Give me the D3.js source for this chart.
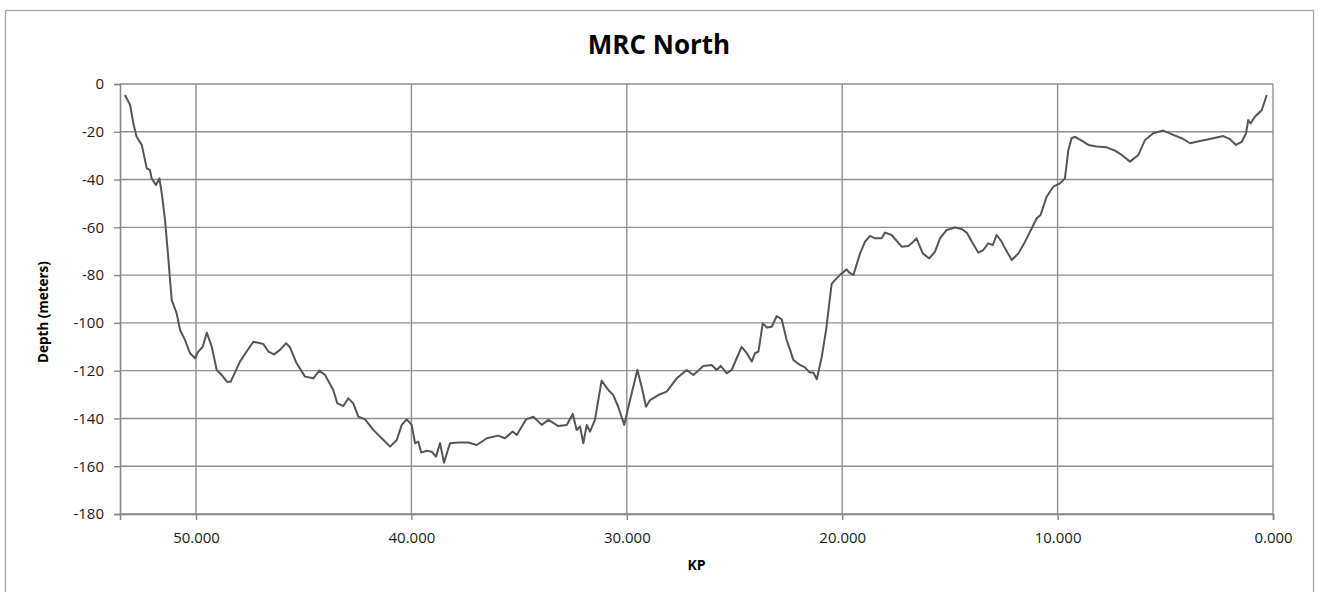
<!DOCTYPE html>
<html>
<head>
<meta charset="utf-8">
<script src="https://cdn.jsdelivr.net/npm/d3@7"></script>
<style>
  body { margin: 0; background: #fff; }
  svg { display: block; font-family: "Open Sans", "DejaVu Sans", sans-serif; }
</style>
</head>
<body>
<div id="chart"></div>
<script>
// ============= Data =============
const chartTitle = "MRC North";
const xLabel = "KP";
const yLabel = "Depth (meters)";

// KP (km), right to left on the reversed axis
const kp = [
  53.30, 53.06, 52.91, 52.76, 52.52, 52.37, 52.29, 52.14, 52.06, 51.86,
  51.70, 51.59, 51.44, 51.28, 51.13, 50.90, 50.74, 50.51, 50.28, 50.05,
  49.89, 49.69, 49.50, 49.27, 49.04, 48.81, 48.57, 48.39, 47.96, 47.65,
  47.34, 47.11, 46.88, 46.64, 46.38, 46.10, 45.82, 45.64, 45.33, 44.94,
  44.55, 44.28, 44.01, 43.63, 43.44, 43.16, 42.93, 42.70, 42.46, 42.15,
  41.77, 41.38, 40.99, 40.68, 40.45, 40.22, 39.99, 39.83, 39.68, 39.55,
  39.29, 39.06, 38.86, 38.67, 38.49, 38.21, 37.82, 37.36, 36.97, 36.50,
  35.97, 35.66, 35.30, 35.11, 34.68, 34.34, 33.95, 33.64, 33.18, 32.79,
  32.51, 32.33, 32.17, 32.02, 31.86, 31.71, 31.48, 31.17, 30.86, 30.63,
  30.40, 30.12, 29.85, 29.51, 29.31, 29.11, 28.92, 28.54, 28.15, 27.68,
  27.22, 26.91, 26.45, 26.06, 25.83, 25.64,
  25.36, 25.13, 24.90, 24.67, 24.43, 24.20, 24.05, 23.89, 23.69, 23.50,
  23.27, 23.04, 22.81, 22.58, 22.42, 22.27, 21.96, 21.73, 21.50, 21.34,
  21.18, 20.95, 20.75, 20.49, 20.33, 20.10, 19.79, 19.67, 19.48, 19.17,
  18.94, 18.71, 18.48, 18.17, 18.01, 17.71, 17.24, 16.93, 16.70, 16.55,
  16.26, 15.96, 15.69, 15.46, 15.15, 14.76, 14.45, 14.22, 13.94, 13.68,
  13.45, 13.22, 13.01, 12.83,
  12.60, 12.44, 12.13, 11.82, 11.51, 11.20, 10.97, 10.79, 10.51, 10.20,
  9.89, 9.66, 9.50, 9.35, 9.19, 8.88, 8.57, 8.19, 7.72, 7.34,
  7.02, 6.64, 6.25, 5.94, 5.56, 5.09, 4.63, 4.24, 3.85, 3.39,
  2.77, 2.31, 2.00, 1.72, 1.45, 1.25, 1.15, 1.04, 0.84, 0.52,
  0.29
];

// depth (m), same order as kp
const depth = [
  -4.6, -8.8, -16.5, -22, -25.5, -31.8, -35.3, -36, -39.5, -42.3,
  -39.5, -45.8, -56.9, -73.7, -90.4, -96, -103, -107.2, -112.7, -114.8,
  -112, -110, -104.1, -110, -119.7, -121.8, -124.6, -124.6, -116.2, -112,
  -107.9, -108.3, -108.8, -112, -113.2, -111.3, -108.5, -110.2, -116.9, -122.5,
  -123.2, -120, -121.8, -128.1, -133.7, -134.8, -131.6, -133.7, -139.3, -140.4,
  -144.8, -148.3, -151.8, -149, -142.7, -140.4, -142.7, -150.4, -149.7, -154.3,
  -153.5, -153.9, -156, -150.4, -158.5, -150.4, -150.1, -150.1, -151.1, -148.3,
  -147.2, -148.3, -145.5, -146.9, -140.4, -139.3, -142.7, -140.6, -143.2, -142.7,
  -138.1, -144.8, -143.4, -150.4, -142.7, -145.5, -140.6, -124.2, -128.1, -130.2,
  -135.1, -142.7, -132.3, -119.7, -126.7, -135.1, -132.3, -130.2, -128.8, -123.2,
  -119.7, -121.8, -118, -117.6, -119.7, -118,
  -121.1, -119.7, -114.8, -110, -112.7, -116.2, -112.7, -112, -100.2, -101.9,
  -101.6, -97.1, -98.5, -107.2, -111.3, -115.5, -117.6, -118.6, -120.8, -120.8,
  -123.6, -114.2, -103, -83.7, -82, -79.9, -77.6, -79, -79.9, -70.9,
  -66, -63.6, -64.6, -64.6, -62.2, -63.2, -68.1, -67.8, -66, -64.6,
  -70.9, -73, -70.2, -64.6, -61.1, -60.1, -60.7, -62.2, -66.7, -70.6,
  -69.5, -66.7, -67.4, -63.2,
  -66, -68.8, -73.7, -70.9, -66, -60.4, -56.2, -54.8, -47.2, -43,
  -41.6, -39.5, -27.6, -22.7, -22.1, -23.7, -25.5, -26.2, -26.5, -27.9,
  -29.7, -32.5, -29.7, -23.4, -20.6, -19.5, -21.3, -22.7, -24.8, -23.9,
  -22.7, -21.8, -23.1, -25.5, -24.2, -20.6, -15.1, -16.5, -13.7, -10.9,
  -4.6
];

const xTicks = [50, 40, 30, 20, 10, 0];
const yTicks = [0, -20, -40, -60, -80, -100, -120, -140, -160, -180];

const points = kp.map((k, i) => ({ kp: k, depth: depth[i] }));

// ============= Layout =============
const width = 1320;
const height = 592;
const plot = { left: 120, right: 1273, top: 84, bottom: 514 };
const gridColor = "#8f8f8f";

const svg = d3.select("#chart")
  .append("svg")
  .attr("width", width)
  .attr("height", height);

// outer chart border
svg.append("rect")
  .attr("x", 5.5)
  .attr("y", 10.5)
  .attr("width", 1308)
  .attr("height", 600)
  .attr("fill", "#fff")
  .attr("stroke", "#a6a6a6")
  .attr("stroke-width", 1.3);

// ============= Scales =============
const x = d3.scaleLinear()
  .domain([53.53, 0])          // reversed: KP decreases to the right
  .range([plot.left, plot.right]);

const y = d3.scaleLinear()
  .domain([-180, 0])
  .range([plot.bottom, plot.top]);

// ============= Gridlines =============
svg.append("g")
  .selectAll("line")
  .data(yTicks)
  .join("line")
  .attr("x1", plot.left)
  .attr("x2", plot.right)
  .attr("y1", d => y(d))
  .attr("y2", d => y(d))
  .attr("stroke", gridColor)
  .attr("stroke-width", 1.4);

svg.append("g")
  .selectAll("line")
  .data(xTicks)
  .join("line")
  .attr("x1", d => x(d))
  .attr("x2", d => x(d))
  .attr("y1", plot.top)
  .attr("y2", plot.bottom)
  .attr("stroke", gridColor)
  .attr("stroke-width", 1.4);

// ============= Axes =============
// plain hyphen for negatives, like the spreadsheet labels
const yAxis = svg.append("g")
  .attr("transform", `translate(${plot.left},0)`)
  .call(d3.axisLeft(y).tickValues(yTicks).tickSize(6).tickPadding(10).tickFormat(d => String(d)));

const xAxis = svg.append("g")
  .attr("transform", `translate(0,${plot.bottom})`)
  .call(d3.axisBottom(x).tickValues(xTicks).tickSize(6).tickPadding(12).tickFormat(d => d.toFixed(3)));

[xAxis, yAxis].forEach(g => {
  g.select(".domain").attr("stroke", "#868686").attr("stroke-width", 1.6);
  g.selectAll(".tick line").attr("stroke", "#868686").attr("stroke-width", 1.4);
  g.selectAll(".tick text")
    .attr("fill", "#1a1a1a")
    .style("font-size", "15px")
    .style("font-family", "'Open Sans', sans-serif");
});

// ============= Line =============
const line = d3.line()
  .x(d => x(d.kp))
  .y(d => y(d.depth));

svg.append("path")
  .datum(points)
  .attr("d", line)
  .attr("fill", "none")
  .attr("stroke", "#555555")
  .attr("stroke-width", 2)
  .attr("stroke-linejoin", "round");

// ============= Labels =============
svg.append("text")
  .attr("x", 659)
  .attr("y", 54)
  .attr("text-anchor", "middle")
  .style("font-size", "26px")
  .style("font-weight", "bold")
  .attr("fill", "#000")
  .text(chartTitle);

svg.append("text")
  .attr("x", (plot.left + plot.right) / 2)
  .attr("y", 570)
  .attr("text-anchor", "middle")
  .style("font-size", "14px")
  .style("font-weight", "bold")
  .attr("fill", "#000")
  .text(xLabel);

svg.append("text")
  .attr("transform", "translate(48,312) rotate(-90)")
  .attr("text-anchor", "middle")
  .style("font-size", "13.5px")
  .style("font-weight", "bold")
  .attr("fill", "#000")
  .text(yLabel);
</script>
</body>
</html>
